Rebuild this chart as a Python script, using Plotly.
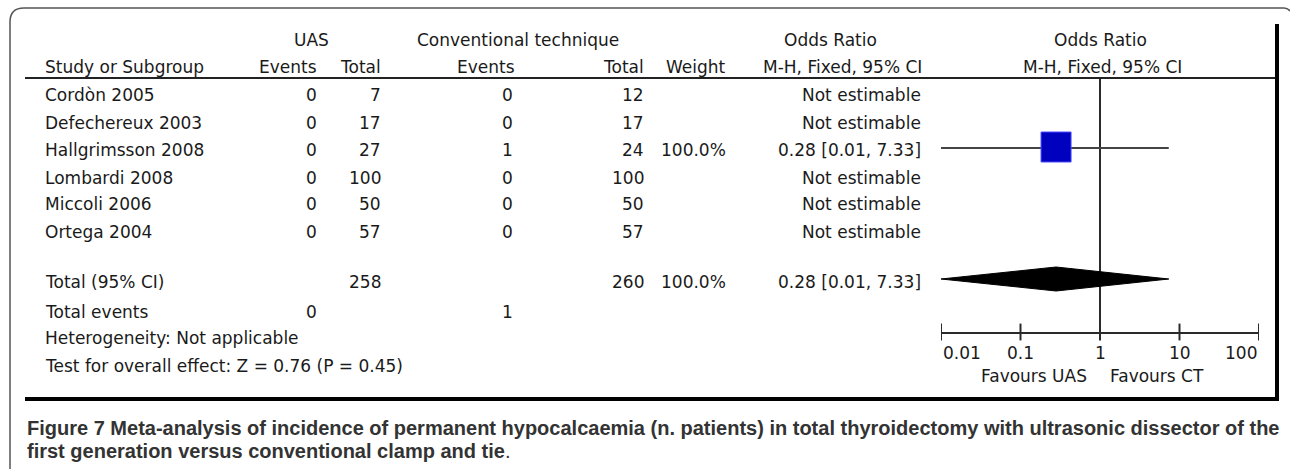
import math
import plotly.graph_objects as go

# ---------------- data ----------------
studies = ["Cordòn 2005", "Defechereux 2003", "Hallgrimsson 2008", "Lombardi 2008", "Miccoli 2006", "Ortega 2004"]
uas_events = [0, 0, 0, 0, 0, 0]
uas_total = [7, 17, 27, 100, 50, 57]
ct_events = [0, 0, 1, 0, 0, 0]
ct_total = [12, 17, 24, 100, 50, 57]
weights = ["", "", "100.0%", "", "", ""]
or_text = ["Not estimable", "Not estimable", "0.28 [0.01, 7.33]", "Not estimable", "Not estimable", "Not estimable"]
or_est = [None, None, 0.28, None, None, None]
or_lo = [None, None, 0.01, None, None, None]
or_hi = [None, None, 7.33, None, None, None]

total_uas = 258
total_ct = 260
total_weight = "100.0%"
total_or = 0.28
total_lo = 0.01
total_hi = 7.33
total_or_text = "0.28 [0.01, 7.33]"
total_events_uas = 0
total_events_ct = 1
heterogeneity = "Heterogeneity: Not applicable"
overall_test = "Test for overall effect: Z = 0.76 (P = 0.45)"

axis_ticks = [0.01, 0.1, 1, 10, 100]
axis_ticklabels = ["0.01", "0.1", "1", "10", "100"]
favours_left = "Favours UAS"
favours_right = "Favours CT"

caption_1 = "Figure 7 Meta-analysis of incidence of permanent hypocalcaemia (n. patients) in total thyroidectomy with ultrasonic dissector of the"
caption_2 = "first generation versus conventional clamp and tie."

# ---------------- layout constants (pixels) ----------------
W, H = 1290, 469
FONT = "DejaVu Sans"
FS = 17
TC = "#1a1a1a"
row_y = [95, 123, 150, 178, 204, 232]
y_total, y_events, y_het, y_test = 282, 312, 338, 366
y_head1, y_head2, y_headline = 40, 67, 78
x_study = 43
x_uas_ev, x_uas_tot = 319, 383
x_ct_ev, x_ct_tot = 515, 646
x_weight, x_or = 728, 923
y_axis_line, y_ticklab, y_fav = 333, 353, 376
x_plot0, x_plot1 = 941, 1259

fig = go.Figure()
ann = []


def txt(x, y, s, anchor="left", size=FS, color=TC, family=FONT, xref="x"):
    ann.append(dict(x=x, y=y, xref=xref, yref="y", text=str(s), showarrow=False,
                    xanchor=anchor, yanchor="middle",
                    font=dict(family=family, size=size, color=color)))


# headers
txt(311, y_head1, "UAS", "center")
txt(518, y_head1, "Conventional technique", "center")
txt(830, y_head1, "Odds Ratio", "center")
txt(1100, y_head1, "Odds Ratio", "center")
txt(x_study, y_head2, "Study or Subgroup", "left")
txt(x_uas_ev, y_head2, "Events", "right")
txt(x_uas_tot, y_head2, "Total", "right")
txt(x_ct_ev + 2, y_head2, "Events", "right")
txt(x_ct_tot, y_head2, "Total", "right")
txt(x_weight, y_head2, "Weight", "right")
txt(842, y_head2, "M-H, Fixed, 95% CI", "center")
txt(1102, y_head2, "M-H, Fixed, 95% CI", "center")

# study rows
for i, s in enumerate(studies):
    y = row_y[i]
    txt(x_study, y, s, "left")
    txt(x_uas_ev, y, uas_events[i], "right")
    txt(x_uas_tot, y, uas_total[i], "right")
    txt(x_ct_ev, y, ct_events[i], "right")
    txt(x_ct_tot, y, ct_total[i], "right")
    if weights[i]:
        txt(x_weight, y, weights[i], "right")
    txt(x_or, y, or_text[i], "right")

# totals
txt(x_study, y_total, "Total (95% CI)", "left")
txt(x_uas_tot, y_total, total_uas, "right")
txt(x_ct_tot, y_total, total_ct, "right")
txt(x_weight, y_total, total_weight, "right")
txt(x_or, y_total, total_or_text, "right")
txt(x_study, y_events, "Total events", "left")
txt(x_uas_ev, y_events, total_events_uas, "right")
txt(x_ct_ev, y_events, total_events_ct, "right")
txt(x_study, y_het, heterogeneity, "left")
txt(x_study, y_test, overall_test, "left")

# caption
CAPF = "Liberation Sans, Arial, sans-serif"
ann.append(dict(x=25, y=428, xref="x", yref="y", showarrow=False, xanchor="left", yanchor="middle",
                text="<b>" + caption_1 + "</b>", font=dict(family=CAPF, size=20, color="#333333")))
ann.append(dict(x=25, y=451, xref="x", yref="y", showarrow=False, xanchor="left", yanchor="middle",
                text="<b>" + caption_2[:-1] + "</b>" + caption_2[-1], font=dict(family=CAPF, size=20, color="#333333")))

# ---------------- forest plot (log axis x2) ----------------
LC = "#2a2a2a"
# null line
fig.add_trace(go.Scatter(x=[1, 1], y=[y_headline, y_axis_line], xaxis="x2", yaxis="y", mode="lines",
                         line=dict(color=LC, width=2), hoverinfo="skip", showlegend=False))
# study CIs and squares
for i in range(len(studies)):
    if or_est[i] is None:
        continue
    fig.add_trace(go.Scatter(x=[or_lo[i], or_hi[i]], y=[row_y[i] - 2, row_y[i] - 2], xaxis="x2", yaxis="y",
                             mode="lines", line=dict(color="#444444", width=2), hoverinfo="skip", showlegend=False))
    fig.add_trace(go.Scatter(x=[or_est[i]], y=[row_y[i] - 3], xaxis="x2", yaxis="y", mode="markers",
                             marker=dict(symbol="square", size=30, color="#0000bf",
                                         line=dict(color="#4a4aff", width=1)),
                             hoverinfo="skip", showlegend=False))
# diamond
yd = y_total - 3
fig.add_trace(go.Scatter(x=[total_lo, total_or, total_hi, total_or, total_lo],
                         y=[yd, yd - 12, yd, yd + 12, yd], xaxis="x2", yaxis="y", mode="lines",
                         fill="toself", fillcolor="black", line=dict(color="black", width=1),
                         hoverinfo="skip", showlegend=False))
# axis line and ticks
fig.add_trace(go.Scatter(x=[axis_ticks[0], axis_ticks[-1]], y=[y_axis_line, y_axis_line], xaxis="x2", yaxis="y",
                         mode="lines", line=dict(color=LC, width=2), hoverinfo="skip", showlegend=False))
fig.add_trace(go.Scatter(x=axis_ticks, y=[y_axis_line - 1] * len(axis_ticks), xaxis="x2", yaxis="y",
                         mode="markers", marker=dict(symbol="line-ns-open", size=12, color=LC,
                                                     line=dict(color=LC, width=2)),
                         hoverinfo="skip", showlegend=False))
aligns = ["left", "center", "center", "center", "right"]
for v, lab, al in zip(axis_ticks, axis_ticklabels, aligns):
    ann.append(dict(x=math.log10(v), y=y_ticklab, xref="x2", yref="y", text=lab, showarrow=False,
                    xanchor=al, yanchor="middle", font=dict(family=FONT, size=FS, color=TC)))
txt(1089, y_fav, favours_left, "right", size=17)
txt(1108, y_fav, favours_right, "left", size=17)

# ---------------- frame shapes ----------------
shapes = [
    dict(type="path", xref="x", yref="y", path="M 10,469 L 10,22 Q 10,8 24,8 L 1284,8 Q 1288,8 1290,11",
         line=dict(color="#555555", width=1.5)),
    dict(type="line", xref="x", yref="y", x0=25, x1=1276, y0=y_headline, y1=y_headline,
         line=dict(color="#222222", width=2)),
    dict(type="line", xref="x", yref="y", x0=1277, x1=1277, y0=24, y1=401, line=dict(color="black", width=4)),
    dict(type="line", xref="x", yref="y", x0=25, x1=1279, y0=399, y1=399, line=dict(color="black", width=4)),
]

fig.update_layout(
    width=W, height=H, margin=dict(l=0, r=0, t=0, b=0),
    paper_bgcolor="white", plot_bgcolor="white",
    xaxis=dict(range=[0, W], domain=[0, 1], visible=False, fixedrange=True),
    xaxis2=dict(type="log", range=[-2, 2], domain=[x_plot0 / W, x_plot1 / W], anchor="y",
                visible=False, fixedrange=True),
    yaxis=dict(range=[H, 0], domain=[0, 1], visible=False, fixedrange=True),
    annotations=ann, shapes=shapes, showlegend=False,
)
fig.write_html("out.html", config=dict(displayModeBar=False, staticPlot=True),
               post_script="document.body.style.margin='0px'; document.body.style.overflow='hidden';")
